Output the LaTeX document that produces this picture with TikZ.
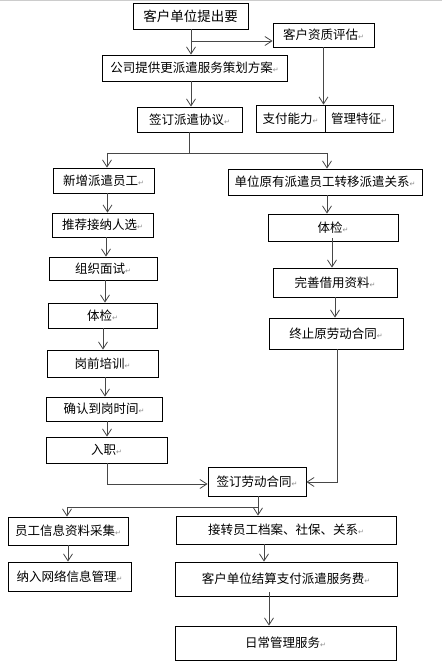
\documentclass[tikz,border=0pt]{standalone}
\usepackage{fontspec}
\setmainfont{Noto Sans CJK SC}
\newfontfamily\symfont{DejaVu Sans}
\usetikzlibrary{arrows.meta}
\newcommand{\retm}{{\symfont\fontsize{7}{7}\selectfont\color{black!45}↵}}
\begin{document}
\begin{tikzpicture}[x=1pt,y=-1pt,
  bx/.style={draw=black,line width=0.8pt,inner sep=0pt,align=center,
    font=\fontsize{12.5}{14}\selectfont},
  arr/.style={draw=black!72,line width=0.8pt,-{Straight Barb[length=7pt,width=9pt]}},
  ln/.style={draw=black!72,line width=0.8pt}]
\useasboundingbox (0,0) rectangle (442,671);
\fill[white] (0,0) rectangle (442,671);
\draw[black!20,line width=1pt] (0,0.5) -- (442,0.5);
% nodes
\node[bx,minimum width=115pt,minimum height=26pt,font=\fontsize{13.5}{15}\selectfont] (n1) at (190.5,16) {客户单位提出要};
\node[bx,minimum width=101pt,minimum height=24pt] (n2) at (323.5,35) {客户资质评估\retm};
\node[bx,minimum width=185pt,minimum height=26pt] (n3) at (194.5,68) {公司提供更派遣服务策划方案\retm};
\node[bx,minimum width=105pt,minimum height=25pt] (n4) at (189.5,119.5) {签订派遣协议\retm};
\node[bx,minimum width=69pt,minimum height=27pt] (n5a) at (290.5,118.5) {支付能力\retm};
\node[bx,minimum width=68pt,minimum height=27pt] (n5b) at (359,118.5) {管理特征\retm};
\node[bx,minimum width=101pt,minimum height=25pt] (L1) at (103.5,180.5) {新增派遣员工\retm};
\node[bx,minimum width=194pt,minimum height=26pt] (R1) at (325,182) {单位原有派遣员工转移派遣关系\retm};
\node[bx,minimum width=101pt,minimum height=24pt] (L2) at (102.5,225) {推荐接纳人选\retm};
\node[bx,minimum width=130pt,minimum height=27pt] (R2) at (333,227.5) {体检\retm};
\node[bx,minimum width=108pt,minimum height=23pt] (L3) at (103,268.5) {组织面试\retm};
\node[bx,minimum width=124pt,minimum height=29pt] (R3) at (335,282.5) {完善借用资料\retm};
\node[bx,minimum width=109pt,minimum height=25pt] (L4) at (102.5,315.5) {体检\retm};
\node[bx,minimum width=134pt,minimum height=31pt] (R4) at (336,333.5) {终止原劳动合同\retm};
\node[bx,minimum width=111pt,minimum height=27pt] (L5) at (102.5,363.5) {岗前培训\retm};
\node[bx,minimum width=116pt,minimum height=24pt] (L6) at (104,409) {确认到岗时间\retm};
\node[bx,minimum width=121pt,minimum height=26pt] (L7) at (106.5,450) {入职\retm};
\node[bx,minimum width=98pt,minimum height=29pt] (C) at (257,481.5) {签订劳动合同\retm};
\node[bx,minimum width=120pt,minimum height=28pt] (B1) at (68,531) {员工信息资料采集\retm};
\node[bx,minimum width=220pt,minimum height=28pt] (B2) at (286,530) {接转员工档案、社保、关系\retm};
\node[bx,minimum width=123pt,minimum height=29pt] (B3) at (69.5,576.5) {纳入网络信息管理\retm};
\node[bx,minimum width=222pt,minimum height=34pt] (B4) at (286,579) {客户单位结算支付派遣服务费\retm};
\node[bx,minimum width=221pt,minimum height=34pt] (B5) at (285.5,643) {日常管理服务\retm};
% coordinates
\coordinate (a1) at (191,29);
\coordinate (b1) at (191,41);
\coordinate (a3) at (191,81);
\coordinate (a4) at (189,132);
\coordinate (s1) at (189,153);
\coordinate (sl) at (107,153);
\coordinate (sr) at (327,153);
\coordinate (k7) at (107,484);
\coordinate (k4) at (337,482);
\coordinate (c1) at (258,507);
\coordinate (cl) at (67,507);
% connectors
\draw[arr] (a1) -- (a1 |- n3.north);
\draw[arr] (b1) -- (b1 -| n2.west);
\draw[arr] (a3) -- (a3 |- n4.north);
\draw[arr] (n2.south) -- (n2.south |- n5a.north);
\draw[ln] (a4) -- (s1);
\draw[ln] (sl) -- (sr);
\draw[arr] (sl) -- (sl |- L1.north);
\draw[arr] (sr) -- (sr |- R1.north);
\draw[arr] ([xshift=4pt]L1.south) -- ([xshift=4pt]L1.south |- L2.north);
\draw[arr] ([xshift=2pt]R1.south) -- ([xshift=2pt]R1.south |- R2.north);
\draw[arr] ([xshift=3.5pt]L2.south) -- ([xshift=3.5pt]L2.south |- L3.north);
\draw[arr] ([xshift=-1pt,yshift=3pt]R2.south) -- ([xshift=-1pt]R2.south |- R3.north);
\draw[arr] ([xshift=2pt]L3.south) -- ([xshift=2pt]L3.south |- L4.north);
\draw[arr] (R3.south) -- (R3.south |- R4.north);
\draw[arr] ([xshift=0.5pt]L4.south) -- ([xshift=0.5pt]L4.south |- L5.north);
\draw[arr] ([xshift=2.5pt]L5.south) -- ([xshift=2.5pt]L5.south |- L6.north);
\draw[arr] ([xshift=3pt]L6.south) -- ([xshift=3pt]L6.south |- L7.north);
\draw[arr] (L7.south -| k7) -- (k7) -- (k7 -| C.west);
\draw[arr] (R4.south -| k4) -- (k4) -- (k4 -| C.east);
\draw[ln] (C.south -| c1) -- (c1);
\draw[ln] (cl) -- (c1);
\draw[arr] (cl) -- (cl |- B1.north);
\draw[arr] (c1) -- (c1 |- B2.north);
\draw[arr] (B1.south) -- (B1.south |- B3.north);
\draw[arr] ([xshift=-22pt]B2.south) -- ([xshift=-22pt]B2.south |- B4.north);
\draw[arr] ([xshift=-17pt,yshift=4pt]B4.south) -- ([xshift=-17pt]B4.south |- B5.north);
\end{tikzpicture}
\end{document}
